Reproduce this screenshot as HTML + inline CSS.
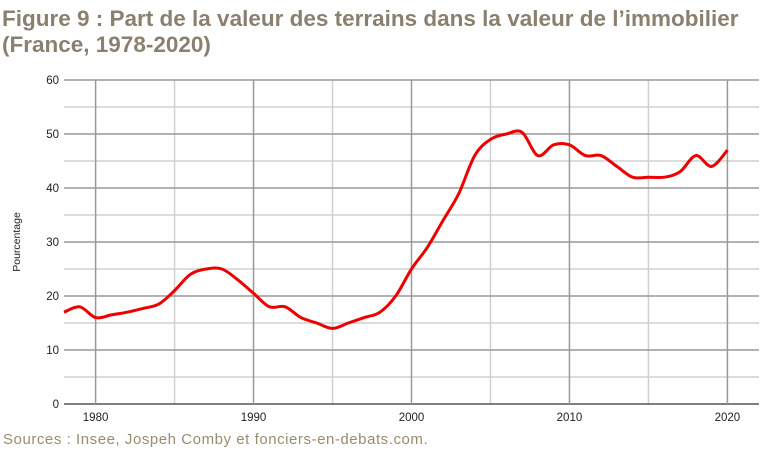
<!DOCTYPE html>
<html><head><meta charset="utf-8">
<style>
body{margin:0;width:768px;height:458px;background:#fff;overflow:hidden;font-family:"Liberation Sans",sans-serif}
#title{position:absolute;left:2px;top:6px;font-size:22.5px;font-weight:bold;color:#8b8070;line-height:26px;letter-spacing:0px}
#src{position:absolute;left:3px;top:431px;font-size:15px;color:#9a8c70;letter-spacing:0.55px}
svg{position:absolute;left:0;top:0}
</style></head><body>
<div id="title">Figure 9 : Part de la valeur des terrains dans la valeur de l’immobilier<br>(France, 1978-2020)</div>
<svg id="chart" width="768" height="458"></svg>
<div id="src">Sources : Insee, Jospeh Comby et fonciers-en-debats.com.</div>
<script>
const years=[1978,1979,1980,1981,1982,1983,1984,1985,1986,1987,1988,1989,1990,1991,1992,1993,1994,1995,1996,1997,1998,1999,2000,2001,2002,2003,2004,2005,2006,2007,2008,2009,2010,2011,2012,2013,2014,2015,2016,2017,2018,2019,2020];
const values=[17,18,16,16.5,17,17.7,18.5,21,24,25,25,23,20.5,18,18,16,15,14,15,16,17,20,25,29,34,39,46,49,50,50.3,46,48,48,46,46,44,42,42,42,43,46,44,47];
const yTicks=[0,10,20,30,40,50,60];
const xTicks=[1980,1990,2000,2010,2020];
const NS='http://www.w3.org/2000/svg';
const svg=document.getElementById('chart');
const L=64,R=759,T=80,B=404,x0=1978,x1=2022,yMax=60;
const X=v=>L+(v-x0)/(x1-x0)*(R-L);
const Y=v=>B-v/yMax*(B-T);
function mk(t,a){const e=document.createElementNS(NS,t);for(const k in a)e.setAttribute(k,a[k]);svg.appendChild(e);return e;}
for(let v=5;v<=60;v+=10){const e=mk('line',{x1:L,x2:R,y1:Y(v),y2:Y(v),stroke:'#d0d0d0','stroke-width':1.5});

}
for(let v=1985;v<=2015;v+=10){const e=mk('line',{x1:X(v),x2:X(v),y1:T,y2:B,stroke:'#d0d0d0','stroke-width':1.5});

}
yTicks.forEach(v=>{const e=mk('line',{x1:L,x2:R,y1:Y(v),y2:Y(v),stroke:v===0?'#555':'#999','stroke-width':1.5});


const t=mk('text',{x:L-5,y:Y(v)+4,'text-anchor':'end','font-size':11.5,fill:'#222'});t.textContent=v;

});
xTicks.forEach(v=>{const e=mk('line',{x1:X(v),x2:X(v),y1:T,y2:B,stroke:'#999','stroke-width':1.5});


const t=mk('text',{x:X(v),y:B+17,'text-anchor':'middle','font-size':11.5,fill:'#222'});t.textContent=v;

});
const yt=mk('text',{x:0,y:0,transform:`translate(20,${(T+B)/2}) rotate(-90)`,'text-anchor':'middle','font-size':10.5,fill:'#222'});yt.textContent='Pourcentage';


const P=years.map((y,i)=>[X(y),Y(values[i])]);
let d=`M${P[0][0]},${P[0][1]}`;
for(let i=0;i<P.length-1;i++){const p0=P[i-1]||P[i],p1=P[i],p2=P[i+1],p3=P[i+2]||p2;
d+=` C${p1[0]+(p2[0]-p0[0])/6},${p1[1]+(p2[1]-p0[1])/6} ${p2[0]-(p3[0]-p1[0])/6},${p2[1]-(p3[1]-p1[1])/6} ${p2[0]},${p2[1]}`;}
const line=mk('path',{d:d,fill:'none',stroke:'#ee0000','stroke-width':3,'stroke-linejoin':'round'});


</script>
</body></html>
